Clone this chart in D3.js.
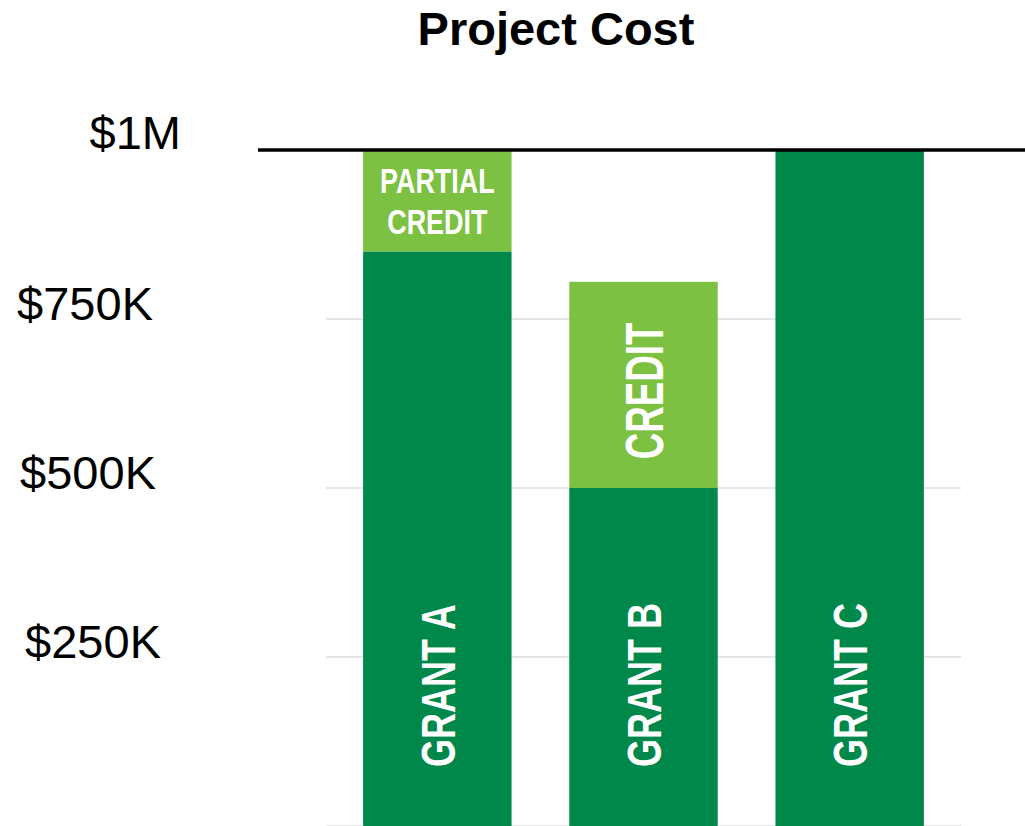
<!DOCTYPE html>
<html lang="en">
    <head>
        <meta charset="utf-8">
        <title>Project Cost</title>
        <script type="text/javascript" src="https://d3js.org/d3.v7.min.js"></script>
        <style>
            body { margin: 0; background: #fff; }
            text { font-family: "Liberation Sans", Arial, sans-serif; }
            .tick text { font-size: 47px; fill: #000; }
            .barLabel { fill: #fff; font-weight: bold; }
        </style>
    </head>
    <body>
        <svg id="chart"></svg>
    </body>
    <script>
        // data (values in $K)
        const grants = ["GRANT A", "GRANT B", "GRANT C"];
        const grantValues = [850, 500, 1000];
        const creditValues = [150, 305, 0];
        const creditLabels = ["PARTIAL CREDIT", "CREDIT", ""];
        const tickValues = [250, 500, 750, 1000];
        const tickLabels = ["$250K", "$500K", "$750K", "$1M"];
        const capValue = 1000;

        const width = 1025, height = 826;
        const darkGreen = "#00884a", lightGreen = "#7cc142";

        let svg = d3.select("#chart")
            .attr("width", width)
            .attr("height", height);

        let yScale = d3.scaleLinear()
            .domain([0, 1000])
            .range([826, 150]);

        let xScale = d3.scaleBand()
            .domain(grants)
            .range([326, 961])
            .paddingInner(0.28)
            .paddingOuter(0.18);

        // title
        svg.append("text")
            .attr("x", 556)
            .attr("y", 45)
            .attr("text-anchor", "middle")
            .style("font-size", "47px")
            .style("font-weight", "bold")
            .text("Project Cost");

        // light gridlines
        svg.append("g")
            .selectAll("line")
            .data(tickValues.filter(d => d < capValue).concat([0]))
            .join("line")
            .attr("x1", 326)
            .attr("x2", 961)
            .attr("y1", d => yScale(d))
            .attr("y2", d => yScale(d))
            .attr("stroke", "#e6e6e6")
            .attr("stroke-width", 2);

        // y labels, baseline sits on the gridline
        let labelShift = {250: 0, 500: -5, 750: -8, 1000: 20};
        let yAxis = svg.append("g")
            .attr("transform", "translate(161,0)")
            .call(d3.axisLeft(yScale)
                .tickValues(tickValues)
                .tickFormat((d, i) => tickLabels[i])
                .tickSize(0)
                .tickPadding(0));
        yAxis.select(".domain").remove();
        yAxis.selectAll(".tick text")
            .attr("font-family", null)
            .attr("font-size", null)
            .attr("dy", d => d === capValue ? "-2" : "0")
            .attr("dx", d => labelShift[d]);

        // bars
        let bars = grants.map((g, i) => ({
            name: g,
            grant: grantValues[i],
            credit: creditValues[i],
            creditLabel: creditLabels[i]
        }));

        let barG = svg.append("g");
        barG.selectAll(".grant")
            .data(bars)
            .join("rect")
            .attr("class", "grant")
            .attr("x", d => xScale(d.name))
            .attr("width", xScale.bandwidth())
            .attr("y", d => yScale(d.grant))
            .attr("height", d => yScale(0) - yScale(d.grant))
            .attr("fill", darkGreen);

        barG.selectAll(".credit")
            .data(bars.filter(d => d.credit > 0))
            .join("rect")
            .attr("class", "credit")
            .attr("x", d => xScale(d.name))
            .attr("width", xScale.bandwidth())
            .attr("y", d => yScale(d.grant + d.credit))
            .attr("height", d => yScale(d.grant) - yScale(d.grant + d.credit))
            .attr("fill", lightGreen);

        // condensed look: squeeze the text to a fraction of its natural width
        function squeeze(sel, f) {
            sel.each(function() {
                let w = this.getComputedTextLength();
                d3.select(this)
                    .attr("textLength", w * f)
                    .attr("lengthAdjust", "spacingAndGlyphs");
            });
        }

        // grant labels, rotated, reading upward from near the bottom
        barG.selectAll(".grantLabel")
            .data(bars)
            .join("text")
            .attr("class", "barLabel")
            .attr("transform", d => "translate(" + (xScale(d.name) + xScale.bandwidth() / 2) + "," + (yScale(0) - 59) + ") rotate(-90)")
            .attr("y", 17.5)
            .style("font-size", "49px")
            .text(d => d.name)
            .call(squeeze, 0.735);

        // credit labels: vertical if segment is tall, else wrapped horizontally
        bars.filter(d => d.credit > 0).forEach(d => {
            let cx = xScale(d.name) + xScale.bandwidth() / 2;
            let top = yScale(d.grant + d.credit), bottom = yScale(d.grant);
            let mid = (top + bottom) / 2;
            if (bottom - top > xScale.bandwidth()) {
                barG.append("text")
                    .attr("class", "barLabel")
                    .attr("text-anchor", "middle")
                    .attr("transform", "translate(" + cx + "," + (mid + 6) + ") rotate(-90)")
                    .attr("y", 19.5)
                    .style("font-size", "54px")
                    .text(d.creditLabel)
                    .call(squeeze, 0.68);
            } else {
                let words = d.creditLabel.split(" ");
                let lineH = 41, cap = 25;
                let first = mid - ((words.length - 1) * lineH + cap) / 2 + cap;
                words.forEach((w, j) => {
                    barG.append("text")
                        .attr("class", "barLabel")
                        .attr("text-anchor", "middle")
                        .attr("x", cx)
                        .attr("y", first + j * lineH)
                        .style("font-size", "35px")
                        .text(w)
                        .call(squeeze, 0.77);
                });
            }
        });

        // $1M cap line
        svg.append("line")
            .attr("x1", 258)
            .attr("x2", width)
            .attr("y1", yScale(capValue))
            .attr("y2", yScale(capValue))
            .attr("stroke", "#000")
            .attr("stroke-width", 3.5);
    </script>
</html>
